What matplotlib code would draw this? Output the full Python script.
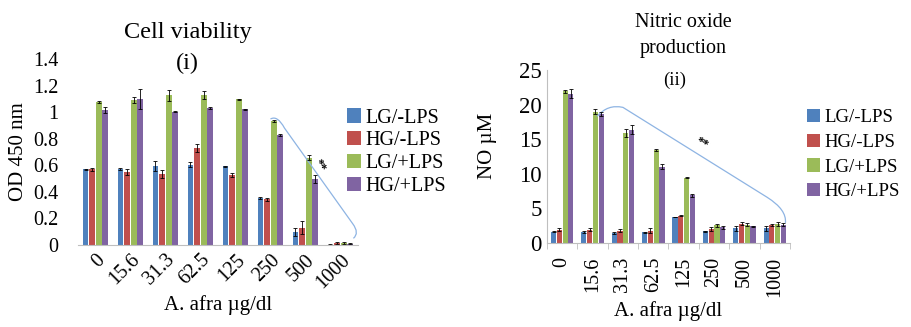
import numpy as np
import matplotlib
matplotlib.use("Agg")
import matplotlib.pyplot as plt
from matplotlib.path import Path
from matplotlib.patches import PathPatch

plt.rcParams['font.family'] = ['Liberation Serif', 'DejaVu Serif']

doses = ["0", "15.6", "31.3", "62.5", "125", "250", "500", "1000"]
groups = ["LG/-LPS", "HG/-LPS", "LG/+LPS", "HG/+LPS"]
colors = ["#4F81BD", "#C0504D", "#9BBB59", "#8064A2"]

# (i) cell viability, OD 450 nm
od_vals = [
    [0.57, 0.575, 0.593, 0.605, 0.593, 0.353, 0.096, 0.003],
    [0.57, 0.55, 0.537, 0.73, 0.525, 0.343, 0.13, 0.015],
    [1.075, 1.09, 1.125, 1.13, 1.097, 0.933, 0.658, 0.015],
    [1.017, 1.10, 1.004, 1.03, 1.02, 0.827, 0.50, 0.01],
]
od_err = [
    [0.005, 0.008, 0.04, 0.02, 0.005, 0.005, 0.03, 0.003],
    [0.01, 0.02, 0.03, 0.03, 0.015, 0.01, 0.05, 0.005],
    [0.01, 0.02, 0.04, 0.03, 0.005, 0.005, 0.02, 0.005],
    [0.025, 0.075, 0.005, 0.005, 0.005, 0.005, 0.03, 0.003],
]

# (ii) nitric oxide, uM
no_vals = [
    [1.63, 1.6, 1.45, 1.55, 3.75, 1.7, 2.1, 2.1],
    [1.9, 1.9, 1.8, 1.8, 3.95, 2.05, 2.8, 2.6],
    [21.9, 19.0, 15.9, 13.45, 9.45, 2.55, 2.65, 2.8],
    [21.6, 18.65, 16.4, 11.05, 6.9, 2.25, 2.4, 2.65],
]
no_err = [
    [0.1, 0.1, 0.1, 0.1, 0.05, 0.1, 0.3, 0.3],
    [0.2, 0.2, 0.2, 0.4, 0.1, 0.3, 0.2, 0.2],
    [0.2, 0.3, 0.6, 0.1, 0.1, 0.2, 0.2, 0.3],
    [0.7, 0.3, 0.6, 0.4, 0.2, 0.2, 0.1, 0.2],
]

fig = plt.figure(figsize=(9.12, 3.27), dpi=100)
ax1 = fig.add_axes([0.0855, 0.2508, 0.307, 0.569])
ax2 = fig.add_axes([0.5998, 0.2569, 0.2664, 0.529])

x = np.arange(len(doses))
w = 0.17
step = 0.19
line_col = "#8EB4E3"


def draw_bars(ax, vals, errs):
    for i in range(4):
        ax.bar(x + (i - 1.5) * step, vals[i], w, color=colors[i], label=groups[i],
               yerr=errs[i], error_kw=dict(ecolor="black", elinewidth=0.6, capsize=1.5, capthick=0.6))
    ax.set_xlim(-0.5, len(doses) - 0.5)
    for s in ["top", "right"]:
        ax.spines[s].set_visible(False)
    ax.spines["bottom"].set_color("#BFBFBF")


def bracket(ax, pts, codes):
    ax.add_patch(PathPatch(Path(pts, codes), fill=False, edgecolor=line_col, lw=0.9, clip_on=False))


# ---- panel (i)
draw_bars(ax1, od_vals, od_err)
ax1.set_ylim(0, 1.4)
ax1.set_yticks(np.arange(0, 1.41, 0.2))
ax1.set_yticklabels(["0", "0.2", "0.4", "0.6", "0.8", "1", "1.2", "1.4"], fontsize=14.5)
ax1.spines["left"].set_visible(False)
ax1.tick_params(axis="y", length=0, pad=14)
ax1.tick_params(axis="x", length=0, pad=4)
ax1.set_xticks(x)
ax1.set_xticklabels(doses, rotation=45, ha="right", rotation_mode="anchor", fontsize=14.5)
ax1.set_ylabel("OD 450 nm", fontsize=15)
ax1.yaxis.set_label_coords(-0.18, 0.5)
ax1.set_xlabel("A. afra µg/dl", fontsize=15, labelpad=2)
fig.text(0.206, 0.90, "Cell viability", ha="center", va="center", fontsize=17.5)
fig.text(0.206, 0.807, "(i)", ha="center", va="center", fontsize=17.5)

g = od_vals[2][5]
bracket(ax1, [(5.0, g + 0.015), (5.2, g + 0.045), (5.4, 0.88), (7.35, 0.16), (7.55, 0.09), (7.37, 0.05)],
        [Path.MOVETO, Path.CURVE3, Path.CURVE3, Path.LINETO, Path.CURVE3, Path.CURVE3])
ax1.text(6.4, 0.6, "**", fontsize=9, fontweight="bold", ha="center", va="center", rotation=-60)
ax1.legend(loc="center left", bbox_to_anchor=(0.372, 0.535), bbox_transform=fig.transFigure,
           frameon=False, fontsize=14.5, handlelength=0.7, handleheight=0.7,
           handletextpad=0.2, labelspacing=0.18, borderaxespad=0)

# ---- panel (ii)
draw_bars(ax2, no_vals, no_err)
ax2.set_ylim(0, 25)
ax2.set_yticks(np.arange(0, 26, 5))
ax2.tick_params(axis="y", length=0, labelsize=16.5, pad=4)
ax2.spines["left"].set_color("#BFBFBF")
ax2.set_xticks(x)
ax2.set_xticklabels(doses, rotation=90, fontsize=14.5)
ax2.set_xticks(np.arange(-0.5, len(doses)), minor=True)
ax2.tick_params(axis="x", which="major", length=0, pad=10)
ax2.tick_params(axis="x", which="minor", length=4, color="#BFBFBF")
ax2.set_ylabel("NO µM", fontsize=15)
ax2.yaxis.set_label_coords(-0.205, 0.56)
ax2.set_xlabel("A. afra µg/dl", fontsize=15, labelpad=3)
fig.text(0.749, 0.93, "Nitric oxide", ha="center", va="center", fontsize=14.5)
fig.text(0.749, 0.852, "production", ha="center", va="center", fontsize=14.5)
ax2.text(3.71, 23.5, "(ii)", ha="center", va="center", fontsize=13.5)

g = no_vals[2][1]
bracket(ax2, [(1.15, g - 0.7), (1.5, 20.1), (2.0, 19.6), (6.75, 6.6), (7.4, 4.8), (7.35, 2.9)],
        [Path.MOVETO, Path.CURVE3, Path.CURVE3, Path.LINETO, Path.CURVE3, Path.CURVE3])
ax2.text(4.6, 14.5, "**", fontsize=9, fontweight="bold", ha="center", va="center", rotation=-30)
ax2.legend(loc="center left", bbox_to_anchor=(0.881, 0.527), bbox_transform=fig.transFigure,
           frameon=False, fontsize=13.5, handlelength=0.7, handleheight=0.7,
           handletextpad=0.2, labelspacing=0.4, borderaxespad=0, borderpad=0.2)

fig.savefig("out.png", dpi=100)
